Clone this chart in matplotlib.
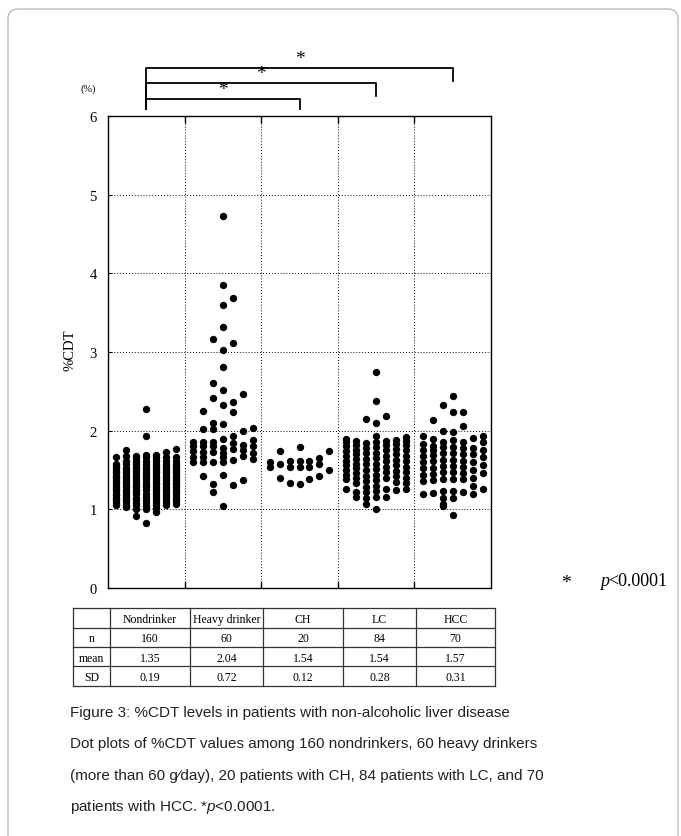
import matplotlib
matplotlib.use("Agg")
import matplotlib.pyplot as plt
from matplotlib.patches import FancyBboxPatch
from matplotlib.transforms import IdentityTransform

plt.rcParams["mathtext.fontset"] = "custom"
plt.rcParams["mathtext.it"] = "Liberation Sans:italic"
plt.rcParams["mathtext.rm"] = "Liberation Sans"

groups = ["Nondrinker", "Heavy drinker", "CH", "LC", "HCC"]

# %CDT values, one list per dot column
nondrinker = [
    [1.05, 1.08, 1.10, 1.13, 1.15, 1.18, 1.20, 1.23, 1.26, 1.28, 1.31, 1.33,
     1.36, 1.38, 1.41, 1.43, 1.46, 1.48, 1.50, 1.52, 1.55, 1.58, 1.67],
    [1.03, 1.06, 1.09, 1.12, 1.14, 1.17, 1.20, 1.22, 1.25, 1.28, 1.30, 1.33,
     1.36, 1.38, 1.41, 1.44, 1.47, 1.50, 1.53, 1.57, 1.62, 1.68, 1.76],
    [0.92, 1.01, 1.05, 1.08, 1.12, 1.15, 1.19, 1.22, 1.25, 1.28, 1.31, 1.34,
     1.37, 1.40, 1.43, 1.46, 1.49, 1.51, 1.54, 1.57, 1.60, 1.64, 1.68],
    [0.83, 1.00, 1.04, 1.08, 1.12, 1.16, 1.20, 1.24, 1.28, 1.31, 1.35, 1.38,
     1.42, 1.45, 1.48, 1.51, 1.54, 1.58, 1.62, 1.66, 1.69, 1.93, 2.27],
    [0.97, 1.02, 1.06, 1.09, 1.13, 1.16, 1.20, 1.23, 1.26, 1.29, 1.32, 1.35,
     1.38, 1.41, 1.44, 1.47, 1.50, 1.52, 1.55, 1.58, 1.61, 1.65, 1.69],
    [1.05, 1.08, 1.11, 1.14, 1.17, 1.20, 1.23, 1.26, 1.29, 1.32, 1.34, 1.37,
     1.40, 1.43, 1.46, 1.48, 1.50, 1.52, 1.55, 1.58, 1.62, 1.67, 1.73],
    [1.07, 1.10, 1.13, 1.16, 1.19, 1.22, 1.25, 1.28, 1.31, 1.34, 1.37, 1.40,
     1.43, 1.46, 1.49, 1.50, 1.52, 1.55, 1.58, 1.62, 1.67, 1.77],
]
heavy_drinker = [
    [1.60, 1.66, 1.74, 1.80, 1.86],
    [1.42, 1.60, 1.66, 1.73, 1.80, 1.86, 2.02, 2.25],
    [1.22, 1.32, 1.60, 1.73, 1.80, 1.86, 2.02, 2.10, 2.42, 2.60, 3.17],
    [1.04, 1.44, 1.60, 1.66, 1.72, 1.78, 1.90, 2.09, 2.33, 2.52, 2.81, 3.03,
     3.32, 3.60, 3.85, 4.73],
    [1.31, 1.63, 1.77, 1.84, 1.93, 2.24, 2.37, 3.12, 3.69],
    [1.37, 1.68, 1.75, 1.82, 2.00, 2.46],
    [1.64, 1.72, 1.80, 1.88, 2.04],
]
ch = [
    [1.54, 1.60],
    [1.40, 1.57, 1.74],
    [1.34, 1.54, 1.62],
    [1.32, 1.54, 1.62, 1.79],
    [1.39, 1.54, 1.62],
    [1.42, 1.58, 1.65],
    [1.50, 1.74],
]
lc = [
    [1.26, 1.38, 1.44, 1.50, 1.56, 1.62, 1.68, 1.74, 1.80, 1.85, 1.90],
    [1.16, 1.22, 1.34, 1.40, 1.46, 1.52, 1.58, 1.64, 1.70, 1.76, 1.82, 1.87],
    [1.07, 1.15, 1.22, 1.29, 1.36, 1.43, 1.50, 1.57, 1.64, 1.71, 1.78, 1.84, 2.15],
    [1.00, 1.16, 1.23, 1.30, 1.37, 1.44, 1.51, 1.58, 1.65, 1.72, 1.79, 1.86,
     1.93, 2.10, 2.38, 2.75],
    [1.16, 1.26, 1.40, 1.47, 1.54, 1.61, 1.68, 1.75, 1.82, 1.87, 2.19],
    [1.25, 1.35, 1.42, 1.49, 1.56, 1.63, 1.70, 1.77, 1.83, 1.88],
    [1.26, 1.33, 1.40, 1.47, 1.54, 1.61, 1.68, 1.75, 1.82, 1.87, 1.92],
]
hcc = [
    [1.20, 1.36, 1.44, 1.52, 1.60, 1.68, 1.76, 1.83, 1.93],
    [1.21, 1.37, 1.45, 1.53, 1.61, 1.69, 1.76, 1.80, 1.90, 2.14],
    [1.04, 1.07, 1.15, 1.23, 1.39, 1.47, 1.55, 1.63, 1.71, 1.79, 1.85, 2.00, 2.33],
    [0.93, 1.15, 1.23, 1.39, 1.47, 1.55, 1.63, 1.71, 1.79, 1.88, 1.98, 2.24, 2.44],
    [1.22, 1.38, 1.46, 1.54, 1.62, 1.70, 1.78, 1.85, 2.06, 2.24],
    [1.20, 1.30, 1.40, 1.50, 1.60, 1.70, 1.78, 1.91],
    [1.26, 1.46, 1.56, 1.66, 1.76, 1.85, 1.93],
]
all_groups = [nondrinker, heavy_drinker, ch, lc, hcc]

# summary table
n_vals = ["160", "60", "20", "84", "70"]
mean_vals = ["1.35", "2.04", "1.54", "1.54", "1.57"]
sd_vals = ["0.19", "0.72", "0.12", "0.28", "0.31"]

comparisons = [(0, 2), (0, 3), (0, 4)]

serif = "Liberation Serif"
sans = "Liberation Sans"

fig = plt.figure(figsize=(6.81, 8.37), dpi=100)
ax = fig.add_axes([108 / 681, 248 / 837, 383 / 681, 472 / 837])

col_step = 0.13
for gi, cols in enumerate(all_groups):
    ncol = len(cols)
    for ci, vals in enumerate(cols):
        x = gi + (ci - (ncol - 1) / 2) * col_step
        ax.scatter([x] * len(vals), vals, s=28, color="black", linewidths=0, zorder=3)

ax.set_xlim(-0.5, len(groups) - 0.5)
ax.set_ylim(0, 6)
ax.set_yticks(range(7))
ax.set_yticklabels([str(i) for i in range(7)], family=serif, fontsize=10.5)
ax.set_xticks([i + 0.5 for i in range(len(groups) - 1)])
ax.set_xticklabels([])
ax.tick_params(axis="y", direction="in", length=3, width=0.8, pad=8)
ax.tick_params(axis="x", direction="in", length=5, width=1, top=True)
for y in range(1, 6):
    ax.axhline(y, color="black", linestyle=(0, (1, 2)), linewidth=0.7, zorder=1)
for x in ax.get_xticks():
    ax.axvline(x, color="black", linestyle=(0, (1, 2)), linewidth=0.7, zorder=1)
for sp in ax.spines.values():
    sp.set_linewidth(1.0)

fig.text(70 / 681, 1 - 350 / 837, "%CDT", rotation=90, family=serif,
         fontsize=10.5, ha="center", va="center")
fig.text(88 / 681, 1 - 89 / 837, "(%)", family=serif, fontsize=7.5,
         ha="center", va="center")

# significance brackets above the plot
bar_y = [6.22, 6.42, 6.61]
leg_y = [6.09, 6.25, 6.44]
for (a, b), yb, yl in zip(comparisons, bar_y, leg_y):
    ax.plot([a, a, b, b], [6.09, yb, yb, yl], color="black", linewidth=1.3,
            clip_on=False)
    ax.text((a + b) / 2, yb + 0.01, "*", family=serif, fontsize=14,
            ha="center", va="bottom")

fig.text(566 / 681, 1 - 584 / 837, "*", family=serif, fontsize=14,
         ha="center", va="center")
fig.text(600 / 681, 1 - 582 / 837, "p", family=serif, fontsize=13,
         ha="left", va="center", style="italic")
fig.text(608 / 681, 1 - 582 / 837, "<0.0001", family=serif, fontsize=13,
         ha="left", va="center")

# table under the plot
col_edges = [73, 110, 190, 263, 343, 416, 495]
row_edges = [609, 629, 648, 667, 687]
rows = [[""] + groups, ["n"] + n_vals, ["mean"] + mean_vals, ["SD"] + sd_vals]
for ci in range(len(col_edges)):
    xs = col_edges[ci] / 681
    fig.add_artist(plt.Line2D([xs, xs], [1 - row_edges[0] / 837, 1 - row_edges[-1] / 837],
                              color="#333333", linewidth=0.9))
for r in row_edges:
    fig.add_artist(plt.Line2D([col_edges[0] / 681, col_edges[-1] / 681],
                              [1 - r / 837, 1 - r / 837], color="#333333",
                              linewidth=0.9))
for ri, row in enumerate(rows):
    yc = (row_edges[ri] + row_edges[ri + 1]) / 2 + 1
    for ci, txt in enumerate(row):
        xc = (col_edges[ci] + col_edges[ci + 1]) / 2
        fig.text(xc / 681, 1 - yc / 837, txt, family=serif, fontsize=8.5,
                 ha="center", va="center")

caption = [
    "Figure 3: %CDT levels in patients with non-alcoholic liver disease",
    "Dot plots of %CDT values among 160 nondrinkers, 60 heavy drinkers",
    "(more than 60 g\u2044day), 20 patients with CH, 84 patients with LC, and 70",
    r"patients with HCC. *$\it{p}$<0.0001.",
]
for i, line in enumerate(caption):
    fig.text(70 / 681, 1 - (713 + 31.5 * i) / 837, line, family=sans,
             fontsize=11, color="#222222", ha="left", va="center")

# page frame
frame = FancyBboxPatch((8, -30), 670, 827 + 30,
                       boxstyle="round,pad=0,rounding_size=10",
                       transform=IdentityTransform(), fill=False,
                       edgecolor="#bbbbbb", linewidth=1.0)
fig.add_artist(frame)

fig.savefig("out.png", dpi=100)
